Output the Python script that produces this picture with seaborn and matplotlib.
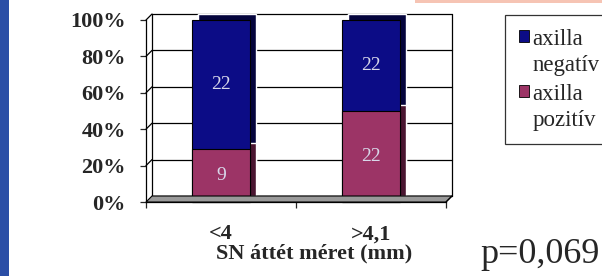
import matplotlib
matplotlib.use("Agg")
import matplotlib.pyplot as plt
import matplotlib.transforms as mtransforms
from matplotlib.legend_handler import HandlerPatch
from matplotlib.lines import Line2D
from matplotlib.patches import Patch, Polygon, Rectangle
import seaborn as sns

CATEGORIES = ["<4", ">4,1"]
AXILLA_POS = [9, 22]
AXILLA_NEG = [22, 22]
SERIES_LABELS = ["axilla\nnegatív", "axilla\npozitív"]
X_TITLE = "SN áttét méret (mm)"
P_TEXT = "p=0,069"

NEG_COLOR = "#0c0c86"
NEG_DARK = "#04043c"
POS_COLOR = "#9c3466"
POS_DARK = "#4a1530"
LABEL_COLOR = "#d8d8ea"

sns.set_style("white")
plt.rcParams["font.family"] = ["Liberation Serif", "DejaVu Serif"]

totals = [p + n for p, n in zip(AXILLA_POS, AXILLA_NEG)]
pos_pct = [100 * p / t for p, t in zip(AXILLA_POS, totals)]
full_pct = [100 for _ in totals]

fig = plt.figure(figsize=(6.02, 2.76), dpi=100)
ax = fig.add_axes([146 / 602, 74 / 276, 300 / 602, 182 / 276])
ax.set_ylim(0, 100)
ax.set_xlim(-0.5, 1.5)

# depth for the 3D look (6 px up and right)
DEPTH = 6
depth = mtransforms.ScaledTranslation(DEPTH / 100, DEPTH / 100, fig.dpi_scale_trans)
wall = mtransforms.blended_transform_factory(ax.transAxes, ax.transData) + depth

# back wall gridlines
for v in range(0, 101, 20):
    ax.plot([0, 1], [v, v], color="black", lw=0.9, transform=wall,
            clip_on=False, zorder=0.5)
for xv in (0, 1):
    ax.plot([xv, xv], [0, 100], color="black", lw=0.9, transform=wall,
            clip_on=False, zorder=0.5)

# extruded bar bodies (top and side faces)
for d in range(1, DEPTH + 1):
    n_before = len(ax.patches)
    sns.barplot(x=CATEGORIES, y=full_pct, color=NEG_DARK, width=0.39, ax=ax,
                saturation=1, zorder=1)
    sns.barplot(x=CATEGORIES, y=pos_pct, color=POS_DARK, width=0.39, ax=ax,
                saturation=1, zorder=1)
    shift = mtransforms.ScaledTranslation(d / 100, d / 100, fig.dpi_scale_trans)
    for p in ax.patches[n_before:]:
        p.set_transform(ax.transData + shift)
        p.set_clip_on(False)

# front faces
sns.barplot(x=CATEGORIES, y=full_pct, color=NEG_COLOR, width=0.39, ax=ax,
            saturation=1, zorder=2)
sns.barplot(x=CATEGORIES, y=pos_pct, color=POS_COLOR, width=0.39, ax=ax,
            saturation=1, zorder=2)
for p in ax.patches[-4:]:
    p.set_edgecolor("black")
    p.set_linewidth(0.8)
    p.set_clip_on(False)

for i, (pp, n, v) in enumerate(zip(pos_pct, AXILLA_NEG, AXILLA_POS)):
    ax.text(i, (pp + 100) / 2, str(n), ha="center", va="center",
            color=LABEL_COLOR, fontsize=14, zorder=3)
    ax.text(i, pp / 2, str(v), ha="center", va="center",
            color=LABEL_COLOR, fontsize=14, zorder=3)

ax.set_yticks(range(0, 101, 20))
ax.set_yticklabels([f"{v}%" for v in range(0, 101, 20)], fontsize=16, fontweight="bold")
ax.set_xticks([0, 1])
ax.set_xticklabels(CATEGORIES, fontsize=16, fontweight="bold")
ax.set_xticks([-0.5, 0.5, 1.5], minor=True)
ax.tick_params(axis="x", which="major", length=0, pad=16)
ax.tick_params(axis="x", which="minor", length=4.5, width=0.9, direction="out", bottom=True)
ax.tick_params(axis="y", length=4.5, width=0.9, direction="out", left=True, pad=10)
for s in ["top", "right"]:
    ax.spines[s].set_visible(False)
for s in ["left", "bottom"]:
    ax.spines[s].set_color("black")
    ax.spines[s].set_linewidth(0.9)
ax.set_facecolor("none")

# floor strip and side-wall diagonals, in pixels
x0, y0 = ax.transAxes.transform((0, 0))
x1, _ = ax.transAxes.transform((1, 0))
fig.patches.append(Polygon([(x0, y0), (x1, y0), (x1 + DEPTH, y0 + DEPTH), (x0 + DEPTH, y0 + DEPTH)],
                           closed=True, transform=None, facecolor="#9a9a9a",
                           edgecolor="black", lw=0.8, zorder=0.6))
for v in range(20, 101, 20):
    _, yv = ax.transData.transform((-0.5, v))
    fig.lines.append(Line2D([x0, x0 + DEPTH], [yv, yv + DEPTH], color="black",
                            lw=0.9, transform=None))
fig.lines.append(Line2D([x1, x1 + DEPTH], [y0, y0 + DEPTH], color="black",
                        lw=0.9, transform=None))

fig.text(314 / 602, 1 - 253 / 276, X_TITLE, ha="center", va="center",
         fontsize=16, fontweight="bold")
fig.text(480 / 602, 1 - 263 / 276, P_TEXT, ha="left", va="baseline", fontsize=26)

# slide decorations
fig.patches.append(Rectangle((0, 0), 9 / 602, 1, transform=fig.transFigure,
                             facecolor="#2b4ea6", edgecolor="none"))
fig.patches.append(Rectangle((415 / 602, 1 - 3 / 276), 187 / 602, 3 / 276,
                             transform=fig.transFigure, facecolor="#f6c4b4",
                             edgecolor="none"))


def top_square(legend, orig_handle, xdescent, ydescent, width, height, fontsize):
    # put the marker next to the first line of a two-line label
    return Rectangle((-xdescent, -ydescent + 0.7 * fontsize), width, height)


LEG_SIZE = 16.5
handles = [Patch(facecolor=NEG_COLOR, edgecolor="black", lw=0.6),
           Patch(facecolor=POS_COLOR, edgecolor="black", lw=0.6)]
leg = fig.legend(handles, SERIES_LABELS, loc="upper left",
                 bbox_to_anchor=(505 / 602, 1 - 15 / 276), frameon=True,
                 fancybox=False, edgecolor="black", fontsize=LEG_SIZE,
                 handlelength=0.44, handleheight=0.44, handletextpad=0.15,
                 borderpad=0.6, labelspacing=0.36, borderaxespad=0,
                 handler_map={Patch: HandlerPatch(patch_func=top_square)})
leg.get_frame().set_linewidth(0.9)
for t in leg.get_texts():
    t.set_linespacing(1.3)

fig.savefig("out.png", dpi=100)
